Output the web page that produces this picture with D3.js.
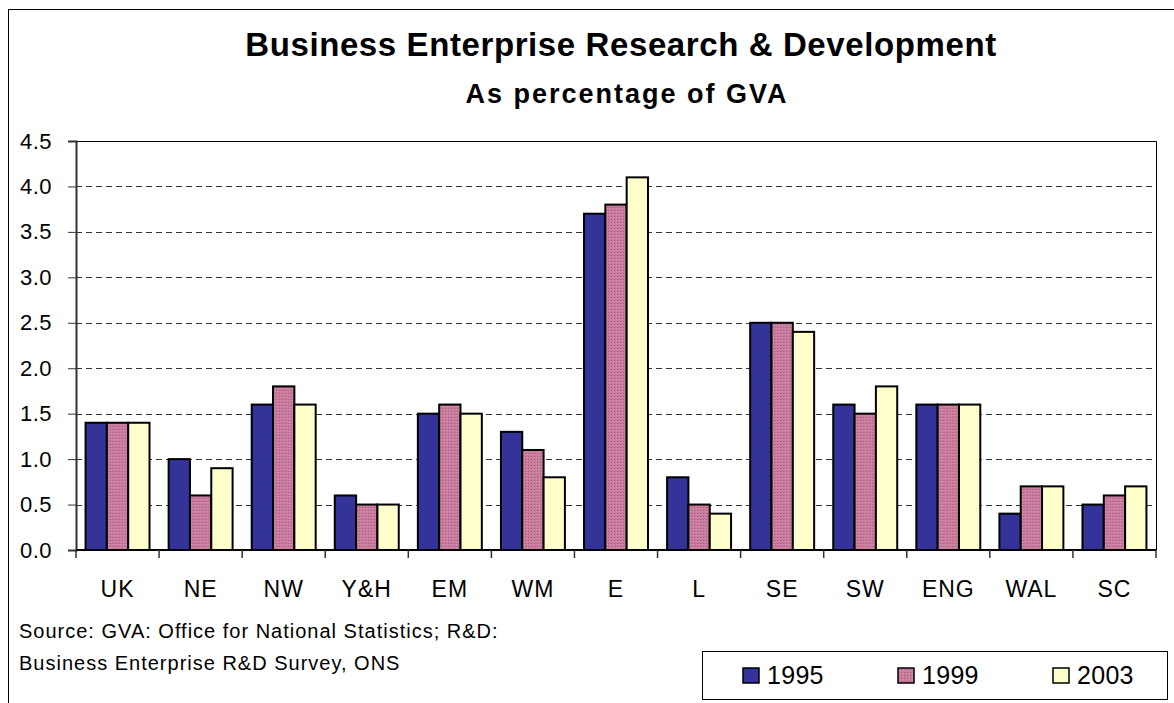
<!DOCTYPE html>
<html>
<head>
<meta charset="utf-8">
<script src="https://cdn.jsdelivr.net/npm/d3@7"></script>
<style>
  body { margin: 0; background: #fff; }
  svg { display: block; font-family: Arial, "Liberation Sans", sans-serif; }
</style>
</head>
<body>
<div id="chart"></div>
<script>
// regions and the three survey years
var regions = ["UK", "NE", "NW", "Y&H", "EM", "WM", "E", "L", "SE", "SW", "ENG", "WAL", "SC"];
var years = ["1995", "1999", "2003"];
var v1995 = [1.4, 1.0, 1.6, 0.6, 1.5, 1.3, 3.7, 0.8, 2.5, 1.6, 1.6, 0.4, 0.5];
var v1999 = [1.4, 0.6, 1.8, 0.5, 1.6, 1.1, 3.8, 0.5, 2.5, 1.5, 1.6, 0.7, 0.6];
var v2003 = [1.4, 0.9, 1.6, 0.5, 1.5, 0.8, 4.1, 0.4, 2.4, 1.8, 1.6, 0.7, 0.7];
var yTicks = [0, 0.5, 1, 1.5, 2, 2.5, 3, 3.5, 4, 4.5];

var series = [v1995, v1999, v2003];
var colors = ["#333399", "url(#pinkDots)", "#ffffcc"];

var W = 1174, H = 703;
var plot = {left: 76, top: 141, right: 1156, bottom: 550};

var svg = d3.select("#chart").append("svg")
  .attr("width", W).attr("height", H);

// dotted pink fill like the Excel pattern
var pat = svg.append("defs").append("pattern")
  .attr("id", "pinkDots").attr("patternUnits", "userSpaceOnUse")
  .attr("width", 3).attr("height", 3);
pat.append("rect").attr("width", 3).attr("height", 3).attr("fill", "#c97c9e");
pat.append("rect").attr("width", 1).attr("height", 1).attr("fill", "#a35a7b");
pat.append("rect").attr("x", 2).attr("y", 1).attr("width", 1).attr("height", 1).attr("fill", "#d993b2");

// outer chart frame
svg.append("rect")
  .attr("x", 8.5).attr("y", 9.5).attr("width", W).attr("height", H)
  .attr("fill", "none").attr("stroke", "#000").attr("stroke-width", 1);

svg.append("text")
  .attr("x", 621).attr("y", 56)
  .attr("text-anchor", "middle")
  .attr("font-size", 33).attr("font-weight", "bold")
  .attr("letter-spacing", 0.6)
  .text("Business Enterprise Research & Development");

svg.append("text")
  .attr("x", 627).attr("y", 103)
  .attr("text-anchor", "middle")
  .attr("font-size", 27).attr("font-weight", "bold")
  .attr("letter-spacing", 2)
  .text("As percentage of GVA");

var x0 = d3.scaleBand()
  .domain(regions)
  .range([plot.left, plot.right])
  .paddingInner(0.23).paddingOuter(0.115);

var x1 = d3.scaleBand()
  .domain(years)
  .range([0, x0.bandwidth()]);

var y = d3.scaleLinear()
  .domain([0, 4.5])
  .range([plot.bottom, plot.top]);

// dashed grid lines
svg.append("g")
  .selectAll("line")
  .data(yTicks.filter(function(d) { return d > 0 && d < 4.5; }))
  .enter().append("line")
  .attr("x1", plot.left).attr("x2", plot.right)
  .attr("y1", function(d) { return Math.round(y(d)) + 0.5; })
  .attr("y2", function(d) { return Math.round(y(d)) + 0.5; })
  .attr("stroke", "#333").attr("stroke-width", 1)
  .attr("stroke-dasharray", "6,4");

// plot area top and right edges
svg.append("path")
  .attr("d", "M" + plot.left + "," + (plot.top + 0.5) + "H" + (plot.right + 0.5) + "V" + plot.bottom)
  .attr("fill", "none").attr("stroke", "#000").attr("stroke-width", 1);

// bars
var groups = svg.append("g")
  .selectAll("g")
  .data(regions)
  .enter().append("g")
  .attr("transform", function(d) { return "translate(" + x0(d) + ",0)"; });

groups.selectAll("rect")
  .data(function(d, i) { return years.map(function(yr, j) { return {year: yr, value: series[j][i], k: j}; }); })
  .enter().append("rect")
  .attr("x", function(d) { return x1(d.year); })
  .attr("y", function(d) { return y(d.value); })
  .attr("width", x1.bandwidth())
  .attr("height", function(d) { return y(0) - y(d.value); })
  .attr("fill", function(d) { return colors[d.k]; })
  .attr("stroke", "#000").attr("stroke-width", 2);

// y axis
var yAxis = svg.append("g")
  .attr("transform", "translate(" + plot.left + ",0)")
  .call(d3.axisLeft(y).tickValues(yTicks).tickSize(8).tickPadding(16)
    .tickFormat(d3.format(".1f")));
yAxis.select(".domain").attr("stroke", "#333").attr("stroke-width", 2);
yAxis.selectAll(".tick line").attr("stroke", "#333").attr("stroke-width", 1);
yAxis.selectAll("text")
  .attr("font-size", 22).attr("font-family", "Arial, 'Liberation Sans', sans-serif")
  .attr("fill", "#000").attr("letter-spacing", 0.5);

// x axis with category boundary ticks
var xAxis = svg.append("g")
  .attr("transform", "translate(0," + plot.bottom + ")");
xAxis.append("line")
  .attr("x1", plot.left).attr("x2", plot.right)
  .attr("stroke", "#000").attr("stroke-width", 2);
var step = x0.step();
xAxis.selectAll(".xtick")
  .data(regions.concat([""]))
  .enter().append("line")
  .attr("class", "xtick")
  .attr("x1", function(d, i) { return plot.left + i * step; })
  .attr("x2", function(d, i) { return plot.left + i * step; })
  .attr("y1", 0).attr("y2", 8)
  .attr("stroke", "#333").attr("stroke-width", 1.5);
xAxis.selectAll(".xlabel")
  .data(regions)
  .enter().append("text")
  .attr("class", "xlabel")
  .attr("x", function(d) { return x0(d) + x0.bandwidth() / 2; })
  .attr("y", 47)
  .attr("text-anchor", "middle")
  .attr("font-size", 23).attr("letter-spacing", 1)
  .text(function(d) { return d; });

// source note
var note = svg.append("text")
  .attr("x", 19).attr("y", 638)
  .attr("font-size", 20).attr("letter-spacing", 1);
note.append("tspan").attr("x", 19).text("Source: GVA: Office for National Statistics; R&D:");
note.append("tspan").attr("x", 19).attr("dy", 32).text("Business Enterprise R&D Survey, ONS");

// legend
var legend = svg.append("g").attr("transform", "translate(702,651)");
legend.append("rect")
  .attr("x", 0.5).attr("y", 0.5).attr("width", 465).attr("height", 48)
  .attr("fill", "#fff").attr("stroke", "#000").attr("stroke-width", 1);
var lx = [41, 196, 351];
var items = legend.selectAll(".item")
  .data(years)
  .enter().append("g")
  .attr("class", "item")
  .attr("transform", function(d, i) { return "translate(" + lx[i] + ",0)"; });
items.append("rect")
  .attr("x", 0).attr("y", 17).attr("width", 16).attr("height", 15)
  .attr("fill", function(d, i) { return colors[i]; })
  .attr("stroke", "#000").attr("stroke-width", 1.5);
items.append("text")
  .attr("x", 24).attr("y", 33)
  .attr("font-size", 25).attr("letter-spacing", 0.3)
  .text(function(d) { return d; });
</script>
</body>
</html>
